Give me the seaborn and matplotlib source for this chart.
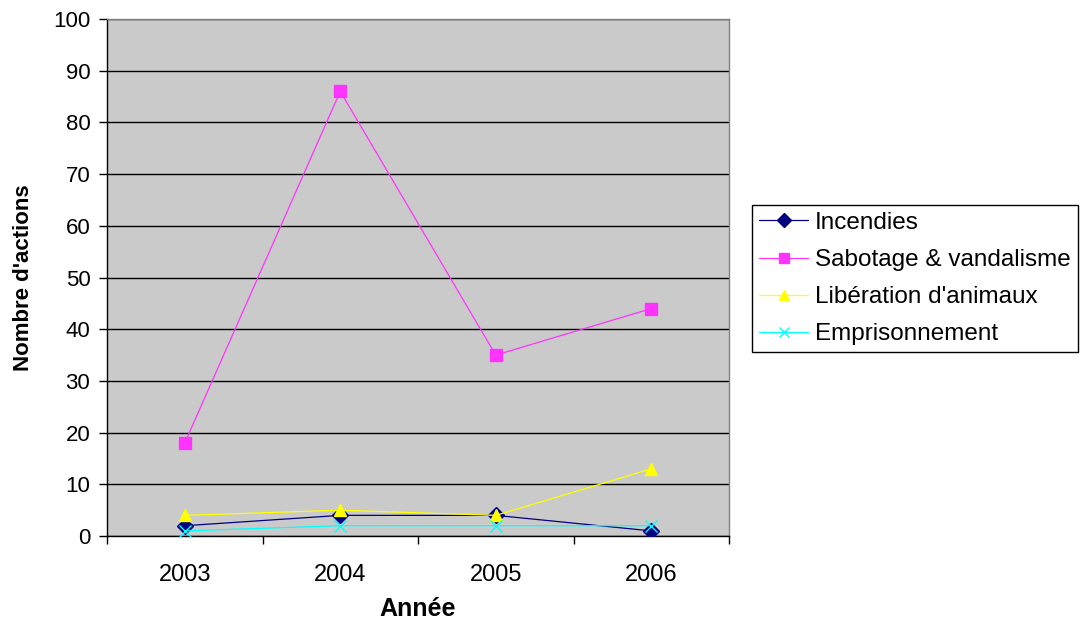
import matplotlib
matplotlib.use('Agg')
import matplotlib.pyplot as plt
import pandas as pd
import seaborn as sns
from matplotlib.ticker import FixedLocator

#%% DATOS

annees = ['2003', '2004', '2005', '2006']
incendies = [2, 4, 4, 1]
sabotage = [18, 86, 35, 44]
liberation = [4, 5, 4, 13]
emprisonnement = [1, 2, 2, 2]

series = ['Incendies', 'Sabotage & vandalisme', "Libération d'animaux", 'Emprisonnement']
couleurs = ['#000080', '#FF33FF', '#FFFF00', '#00FFFF']
marqueurs = ['D', 's', '^', 'x']

datos = pd.DataFrame({
    'Année': annees * 4,
    'valeur': incendies + sabotage + liberation + emprisonnement,
    'serie': [s for s in series for _ in annees],
})

#%% GRAFICO

sns.set_style('white')
plt.rcParams['font.family'] = ['Liberation Sans', 'DejaVu Sans']
plt.rcParams['text.color'] = 'black'
plt.rcParams['axes.labelcolor'] = 'black'
plt.rcParams['xtick.color'] = 'black'
plt.rcParams['ytick.color'] = 'black'

fig = plt.figure(figsize=(10.81, 6.19), dpi=100)
ax = fig.add_axes([0.099, 0.134, 0.5754, 0.8353])
ax.set_facecolor('#CACACA')

# seaborn no deja mezclar marcadores rellenos y "x" en un mismo llamado -> uno por serie
for s, c, m in zip(series, couleurs, marqueurs):
    sns.lineplot(data=datos[datos['serie'] == s], x='Année', y='valeur',
                 color=c, marker=m, markersize=8, linewidth=0.9,
                 markeredgewidth=1.0, markeredgecolor=c, markerfacecolor=c,
                 sort=False, label=s, ax=ax, zorder=3)

ax.set_xlim(-0.5, len(annees) - 0.5)
ax.set_ylim(0, 100)
ax.set_yticks(range(0, 101, 10))
ax.yaxis.grid(True, color='black', linewidth=1.0)
ax.xaxis.grid(False)
ax.set_axisbelow(True)

ax.xaxis.set_minor_locator(FixedLocator([i - 0.5 for i in range(len(annees) + 1)]))
ax.tick_params(axis='x', which='major', length=0, pad=20, labelsize=17)
ax.tick_params(axis='x', which='minor', length=6, width=1, color='black', direction='out', bottom=True)
ax.tick_params(axis='y', length=6, width=1, color='black', direction='out', left=True, pad=6, labelsize=16)

for lado in ['left', 'bottom']:
    ax.spines[lado].set_color('black')
    ax.spines[lado].set_linewidth(1.0)
for lado in ['top', 'right']:
    ax.spines[lado].set_color('#808080')
    ax.spines[lado].set_linewidth(1.0)

ax.set_xlabel('Année', weight='bold', size=18, labelpad=8)
ax.set_ylabel("Nombre d'actions", weight='bold', size=16, labelpad=14)

leg = ax.legend(loc='center left', bbox_to_anchor=(0.6957, 0.55), bbox_transform=fig.transFigure,
                frameon=True, fancybox=False, edgecolor='black', framealpha=1,
                fontsize=17.5, handlelength=2.0, labelspacing=0.62, borderpad=0.3,
                handletextpad=0.3, borderaxespad=0, markerscale=0.85)
leg.get_frame().set_linewidth(1.0)

fig.savefig('out.png', dpi=100)
